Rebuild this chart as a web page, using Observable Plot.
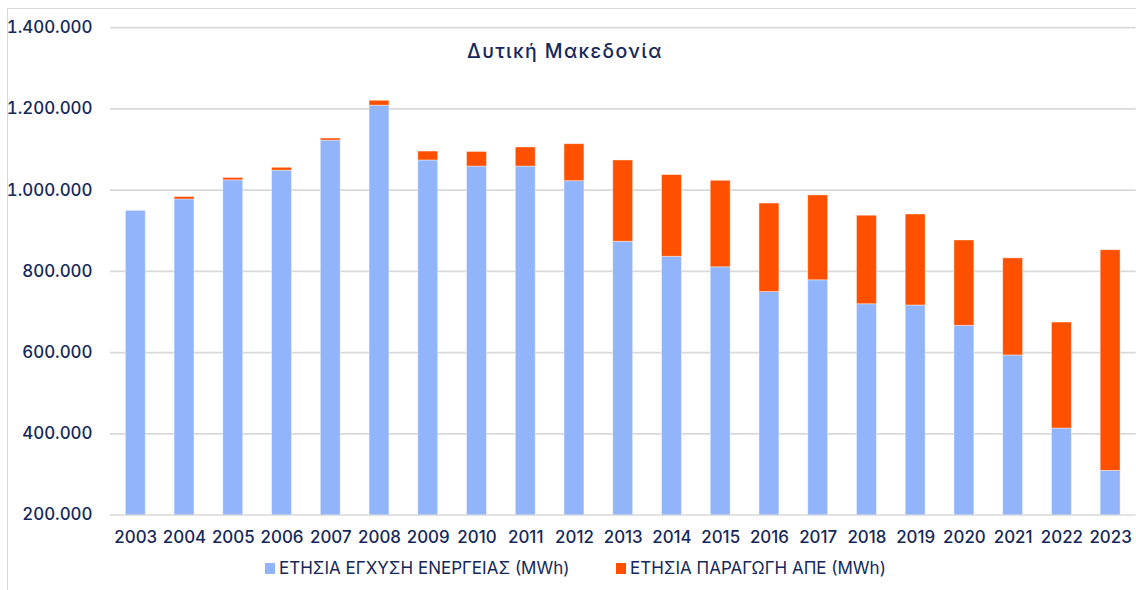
<!DOCTYPE html>
<html>
<head>
<meta charset="utf-8">
<script src="https://cdn.jsdelivr.net/npm/d3@7"></script>
<script src="https://cdn.jsdelivr.net/npm/@observablehq/plot@0.6"></script>
<style>
  html, body { margin: 0; padding: 0; background: #fff; }
  body { width: 1136px; height: 590px; overflow: hidden; position: relative; font-family: Inter, "Noto Sans", sans-serif; color: #14285a; }
  #frame { position: absolute; left: 7px; top: 8px; right: -10px; bottom: -10px; border-left: 1.5px solid #d9d9d9; border-top: 1.5px solid #d9d9d9; }
  #chart { position: absolute; left: 0; top: 0; }
  #title { position: absolute; left: 565px; top: 41px; transform: translateX(-50%); font-size: 19.5px; letter-spacing: 1.4px; line-height: 20px; white-space: nowrap; font-weight: 500; }
  .leg { position: absolute; top: 558px; height: 20px; display: flex; align-items: center; font-size: 17px; line-height: 20px; white-space: nowrap; }
  .sw { width: 10px; height: 11px; margin-right: 4px; }
</style>
</head>
<body>
<div id="frame"></div>
<div id="chart"></div>
<div id="title">Δυτική Μακεδονία</div>
<div id="legend"></div>
<script>
// ---- Data (MWh) ----
const years = ["2003","2004","2005","2006","2007","2008","2009","2010","2011","2012","2013","2014","2015","2016","2017","2018","2019","2020","2021","2022","2023"];
const injection = [949000, 977000, 1024000, 1048000, 1122000, 1208000, 1073000, 1058000, 1058000, 1022000, 873000, 836000, 810000, 749000, 778000, 719000, 716000, 666000, 593000, 413000, 309000];
const renewables = [0, 6000, 6000, 7000, 5000, 12000, 22000, 36000, 47000, 91000, 200000, 201000, 213000, 218000, 209000, 218000, 224000, 210000, 239000, 261000, 543000];
const seriesNames = ["ΕΤΗΣΙΑ ΕΓΧΥΣΗ ΕΝΕΡΓΕΙΑΣ (MWh)", "ΕΤΗΣΙΑ ΠΑΡΑΓΩΓΗ ΑΠΕ (MWh)"];
const seriesColors = ["#91b4fa", "#ff5000"];
const yTicks = [200000, 400000, 600000, 800000, 1000000, 1200000, 1400000];

const table = [];
years.forEach((y, i) => {
  table.push({year: y, series: seriesNames[0], value: injection[i]});
  table.push({year: y, series: seriesNames[1], value: renewables[i]});
});

const fmt = d3.formatLocale({decimal: ",", thousands: ".", grouping: [3], currency: ["", "€"]}).format(",d");

const chart = Plot.plot({
  width: 1142,
  height: 555,
  marginLeft: 110.5,
  marginRight: 0.4,
  marginTop: 27.3,
  marginBottom: 37.7,
  style: {fontFamily: "Inter, 'Noto Sans', sans-serif", fontSize: "17px", color: "#14285a", background: "transparent", overflow: "visible"},
  x: {domain: years, paddingInner: 0.6, paddingOuter: 0.3, label: null},
  y: {domain: [200000, 1400000], label: null},
  color: {domain: seriesNames, range: seriesColors},
  marks: [
    Plot.gridY(yTicks, {stroke: "#d9d9d9", strokeOpacity: 1, strokeWidth: 1.6}),
    Plot.barY(table, Plot.stackY({
      x: "year", y: "value", fill: "series",
      order: seriesNames,
      clip: true,
      stroke: "#ffffff", strokeOpacity: 0.5, strokeWidth: 0.8
    })),
    Plot.axisY(yTicks, {tickSize: 0, tickPadding: 18, tickFormat: fmt, label: null, fontWeight: 500}),
    Plot.axisX({tickSize: 0, tickPadding: 16, label: null, fontWeight: 500})
  ]
});
document.getElementById("chart").appendChild(chart);

const legendX = [265, 616];
const legend = document.getElementById("legend");
seriesNames.forEach((name, i) => {
  const item = document.createElement("div");
  item.className = "leg";
  item.style.left = legendX[i] + "px";
  const sw = document.createElement("span");
  sw.className = "sw";
  sw.style.background = seriesColors[i];
  const tx = document.createElement("span");
  tx.textContent = name;
  item.appendChild(sw);
  item.appendChild(tx);
  legend.appendChild(item);
});
</script>
</body>
</html>
